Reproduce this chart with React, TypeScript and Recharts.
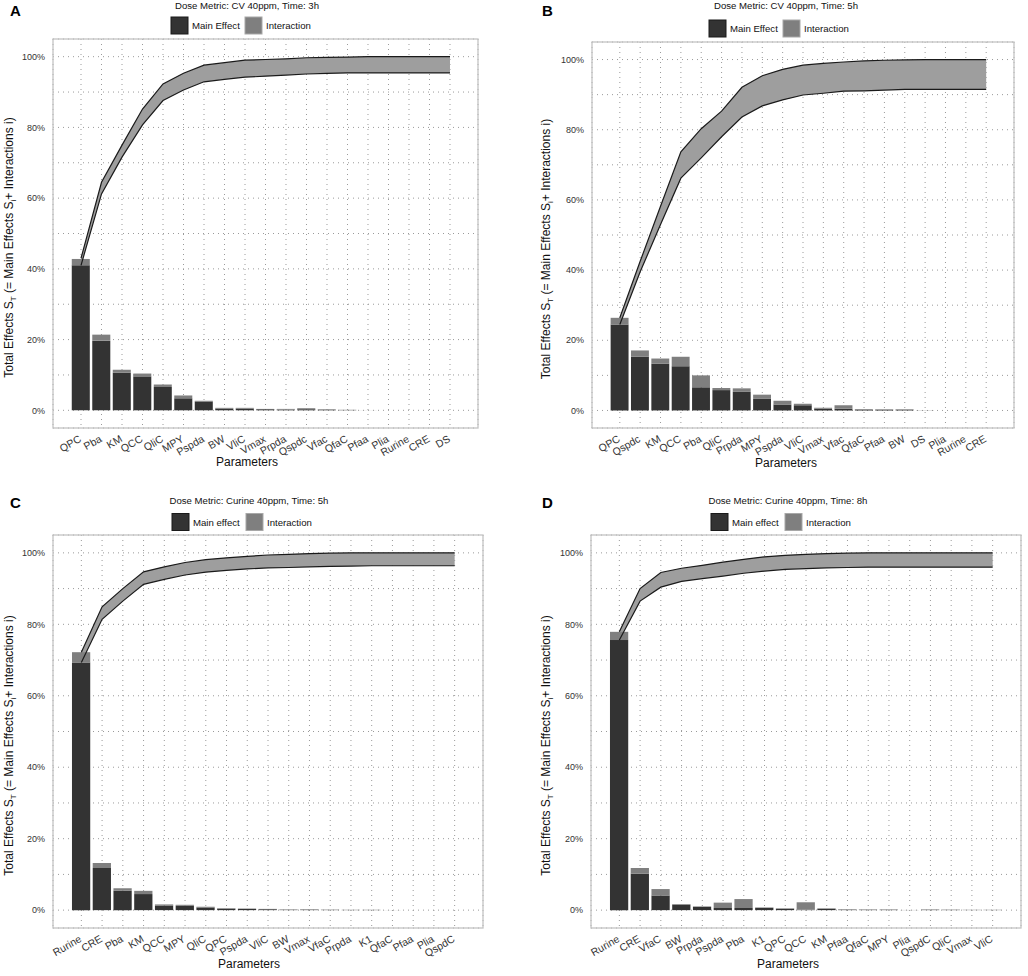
import React from "react";
import {
  ComposedChart,
  Bar,
  Area,
  Line,
  XAxis,
  YAxis,
  CartesianGrid,
} from "recharts";

const FONT = "'Liberation Sans', Arial, Helvetica, sans-serif";

// Panel A - CV 40ppm, 3h
const paramsA = ["QPC", "Pba", "KM", "QCC", "QliC", "MPY", "Pspda", "BW", "VliC", "Vmax", "Prpda", "Qspdc", "Vfac", "QfaC", "Pfaa", "Plia", "Rurine", "CRE", "DS"];
const mainA = [41.0, 19.7, 10.6, 9.6, 6.6, 3.4, 2.5, 0.5, 0.5, 0.3, 0.2, 0.3, 0.1, 0.05, 0, 0, 0, 0, 0];
const interA = [1.8, 1.7, 0.9, 0.8, 0.7, 0.8, 0.2, 0.2, 0.2, 0.1, 0.2, 0.3, 0.2, 0.1, 0.02, 0, 0, 0, 0];
const upperA = [43, 64.5, 75, 85.2, 92.3, 95.3, 97.6, 98.3, 99, 99.2, 99.4, 99.7, 99.8, 99.9, 100, 100, 100, 100, 100];
const lowerA = [41, 61.2, 71.6, 80.7, 87.6, 90.6, 92.9, 93.6, 94.2, 94.5, 94.8, 95.1, 95.3, 95.4, 95.4, 95.4, 95.4, 95.4, 95.4];

// Panel B - CV 40ppm, 5h
const paramsB = ["QPC", "Qspdc", "KM", "QCC", "Pba", "QliC", "Prpda", "MPY", "Pspda", "VliC", "Vmax", "Vfac", "QfaC", "Pfaa", "BW", "DS", "Plia", "Rurine", "CRE"];
const mainB = [24.5, 15.3, 13.3, 12.6, 6.6, 5.8, 5.3, 3.3, 1.7, 1.5, 0.5, 0.5, 0.2, 0.2, 0.2, 0.02, 0, 0, 0];
const interB = [1.9, 1.8, 1.5, 2.7, 3.4, 0.6, 1.0, 1.2, 1.1, 0.4, 0.3, 1.0, 0.2, 0.15, 0.15, 0.03, 0, 0, 0];
const upperB = [26.4, 42.5, 58.2, 73.7, 80.3, 85.3, 92.1, 95.4, 97.2, 98.4, 98.9, 99.3, 99.6, 99.8, 99.9, 100, 100, 100, 100];
const lowerB = [24.5, 39.5, 53, 66.2, 72, 78, 83.6, 86.8, 88.5, 89.9, 90.4, 91, 91.1, 91.3, 91.5, 91.5, 91.5, 91.5, 91.5];

// Panel C - Curine 40ppm, 5h
const paramsC = ["Rurine", "CRE", "Pba", "KM", "QCC", "MPY", "QliC", "QPC", "Pspda", "VliC", "BW", "Vmax", "VfaC", "Prpda", "K1", "QfaC", "Pfaa", "Plia", "QspdC"];
const mainC = [69.3, 11.8, 5.4, 4.5, 1.3, 1.2, 0.75, 0.4, 0.35, 0.25, 0.1, 0.1, 0.05, 0.05, 0.05, 0, 0, 0, 0];
const interC = [2.9, 1.4, 0.7, 0.9, 0.3, 0.3, 0.2, 0.15, 0.1, 0.1, 0.1, 0.15, 0.1, 0.05, 0.05, 0.02, 0, 0, 0];
const upperC = [72.2, 84.9, 90, 94.7, 96.1, 97.3, 98.1, 98.6, 99, 99.4, 99.6, 99.8, 99.9, 100, 100, 100, 100, 100, 100];
const lowerC = [69.3, 81.4, 86.5, 91.2, 92.6, 93.8, 94.6, 95.1, 95.5, 95.8, 95.9, 96.1, 96.2, 96.3, 96.4, 96.4, 96.4, 96.4, 96.4];

// Panel D - Curine 40ppm, 8h
const paramsD = ["Rurine", "CRE", "VfaC", "BW", "Prpda", "Pspda", "Pba", "K1", "QPC", "QCC", "KM", "Pfaa", "QfaC", "MPY", "Plia", "QspdC", "QliC", "Vmax", "VliC"];
const mainD = [75.6, 10.2, 4.1, 1.5, 0.9, 0.6, 0.6, 0.65, 0.4, 0.1, 0.4, 0.1, 0.05, 0.05, 0, 0.05, 0.05, 0.02, 0.02];
const interD = [2.3, 1.6, 1.8, 0.2, 0.15, 1.5, 2.5, 0.1, 0.1, 2.1, 0.1, 0.15, 0.15, 0.15, 0.05, 0.15, 0.1, 0.08, 0.08];
const upperD = [77.9, 90, 94.5, 95.7, 96.5, 97.4, 98.2, 98.9, 99.3, 99.6, 99.8, 99.9, 100, 100, 100, 100, 100, 100, 100];
const lowerD = [75.6, 86.5, 90.4, 92, 92.8, 93.5, 94.3, 94.9, 95.4, 95.6, 95.8, 95.9, 96, 96, 96, 96, 96, 96, 96];

const yTicks = [0, 10, 20, 30, 40, 50, 60, 70, 80, 90, 100];

const MAIN_COLOR = "#333333";
const INTER_COLOR = "#7f7f7f";
const BAND_COLOR = "#9e9e9e";

function XTick(props: any) {
  const { x, y, payload } = props;
  return (
    <text
      transform={`translate(${x + 1},${y + 13}) rotate(-30)`}
      textAnchor="end"
      fontSize={10.5}
      fill="#333"
      fontFamily={FONT}
    >
      {payload.value}
    </text>
  );
}

interface PanelProps {
  letter: string;
  title: string;
  mainName: string;
  params: string[];
  main: number[];
  inter: number[];
  upper: number[];
  lower: number[];
  ox: number;
  oy: number;
  box: [number, number, number, number]; // left, top, right, bottom in page coords
  mid: number;
  legendX: number;
  titleY: number;
  legendY: number;
  letterY: number;
  yLabelX: number;
  xLabelY: number;
}

function Panel(p: PanelProps) {
  const [bx, by, br, bb] = p.box;
  const w = br - bx;
  const pad = w * 0.0418;
  const band = (w - 2 * pad) / p.params.length;
  const rows = p.params.map((name, i) => ({
    name,
    main: p.main[i],
    inter: p.inter[i],
    upper: p.upper[i],
    lower: p.lower[i],
    band: [p.lower[i], p.upper[i]],
  }));
  const chartW = Math.min(514, 1028 - p.ox);
  const chartH = bb - p.oy + 50;
  const lx = p.legendX;
  const ly = p.legendY;
  const cy = (by + bb) / 2 - p.oy + 14;

  return (
    <>
      <div style={{ position: "absolute", left: p.ox, top: p.oy }}>
        <ComposedChart
          width={chartW}
          height={chartH}
          data={rows}
          margin={{ top: by - p.oy, right: p.ox + chartW - br, left: 0, bottom: 0 }}
        >
          <CartesianGrid stroke="#9a9a9a" strokeDasharray="1 4" strokeWidth={1} />
          <XAxis
            dataKey="name"
            interval={0}
            height={50}
            padding={{ left: pad, right: pad }}
            tick={<XTick />}
            tickLine={false}
            axisLine={false}
            tickSize={0}
            tickMargin={0}
          />
          <YAxis
            type="number"
            domain={[-5, 105]}
            ticks={yTicks}
            width={bx - p.ox}
            tickFormatter={(v: number) => (v % 20 === 0 ? `${v}%` : "")}
            tick={{ fontSize: 9, fill: "#333", fontFamily: FONT }}
            tickLine={false}
            axisLine={false}
            tickSize={6}
            tickMargin={2}
          />
          <Bar dataKey="main" stackId="s" fill={MAIN_COLOR} barSize={band * 0.88} isAnimationActive={false} />
          <Bar dataKey="inter" stackId="s" fill={INTER_COLOR} barSize={band * 0.88} isAnimationActive={false} />
          <Area
            dataKey="band"
            type="linear"
            fill={BAND_COLOR}
            fillOpacity={1}
            stroke="none"
            isAnimationActive={false}
          />
          <Line dataKey="upper" type="linear" stroke="#1a1a1a" strokeWidth={1.2} dot={false} isAnimationActive={false} />
          <Line dataKey="lower" type="linear" stroke="#1a1a1a" strokeWidth={1.2} dot={false} isAnimationActive={false} />
        </ComposedChart>
      </div>
      <svg
        width={514}
        height={490}
        style={{ position: "absolute", left: p.ox, top: p.oy, pointerEvents: "none", overflow: "visible" }}
        fontFamily={FONT}
      >
        <rect x={bx - p.ox} y={by - p.oy} width={w} height={bb - by} fill="none" stroke="#c4c4c4" strokeWidth={1.3} />
        <text x={p.ox === 0 ? 10 : 28} y={p.letterY} fontSize={15} fontWeight="bold" fill="#000">
          {p.letter}
        </text>
        <text x={p.mid} y={p.titleY} fontSize={9.6} fill="#111" textAnchor="middle">
          {p.title}
        </text>
        <rect x={lx} y={ly - 8.5} width={17} height={17} fill={MAIN_COLOR} stroke="#1a1a1a" strokeWidth={1} />
        <text x={lx + 21} y={ly + 3.5} fontSize={9.6} fill="#111">
          {p.mainName}
        </text>
        <rect x={lx + 74} y={ly - 8.5} width={17} height={17} fill={INTER_COLOR} stroke="#a8a8a8" strokeWidth={1} />
        <text x={lx + 95} y={ly + 3.5} fontSize={9.6} fill="#111">
          Interaction
        </text>
        <text transform={`translate(${p.yLabelX},${cy}) rotate(-90)`} textAnchor="middle" fontSize={12} fill="#111">
          Total Effects S
          <tspan fontSize={8} dy={3}>T</tspan>
          <tspan dy={-3}>{" (= Main Effects S"}</tspan>
          <tspan fontSize={8} dy={3}>i</tspan>
          <tspan dy={-3}>{"+ Interactions i)"}</tspan>
        </text>
        <text x={p.mid} y={p.xLabelY} fontSize={12} fill="#111" textAnchor="middle">
          Parameters
        </text>
      </svg>
    </>
  );
}

export default function App() {
  return (
    <div style={{ position: "absolute", left: 0, top: 0, width: 1028, height: 976, background: "#fff" }}>
      <Panel
        letter="A"
        title="Dose Metric: CV 40ppm, Time: 3h"
        mainName="Main Effect"
        params={paramsA}
        main={mainA}
        inter={interA}
        upper={upperA}
        lower={lowerA}
        ox={0}
        oy={0}
        box={[53, 39, 478, 428]}
        mid={247}
        legendX={171}
        titleY={9}
        legendY={25.5}
        letterY={16}
        yLabelX={13}
        xLabelY={466}
      />
      <Panel
        letter="B"
        title="Dose Metric: CV 40ppm, Time: 5h"
        mainName="Main Effect"
        params={paramsB}
        main={mainB}
        inter={interB}
        upper={upperB}
        lower={lowerB}
        ox={514}
        oy={0}
        box={[592, 42, 1014, 428]}
        mid={272}
        legendX={195}
        titleY={9}
        legendY={28.5}
        letterY={16}
        yLabelX={36}
        xLabelY={467}
      />
      <Panel
        letter="C"
        title="Dose Metric: Curine 40ppm, Time: 5h"
        mainName="Main effect"
        params={paramsC}
        main={mainC}
        inter={interC}
        upper={upperC}
        lower={lowerC}
        ox={0}
        oy={490}
        box={[53, 535, 483, 928]}
        mid={249}
        legendX={172}
        titleY={14}
        legendY={32}
        letterY={18}
        yLabelX={13}
        xLabelY={478}
      />
      <Panel
        letter="D"
        title="Dose Metric: Curine 40ppm, Time: 8h"
        mainName="Main effect"
        params={paramsD}
        main={mainD}
        inter={interD}
        upper={upperD}
        lower={lowerD}
        ox={514}
        oy={490}
        box={[591, 535, 1021, 928]}
        mid={274}
        legendX={197}
        titleY={14}
        legendY={32}
        letterY={18}
        yLabelX={36}
        xLabelY={478}
      />
    </div>
  );
}
